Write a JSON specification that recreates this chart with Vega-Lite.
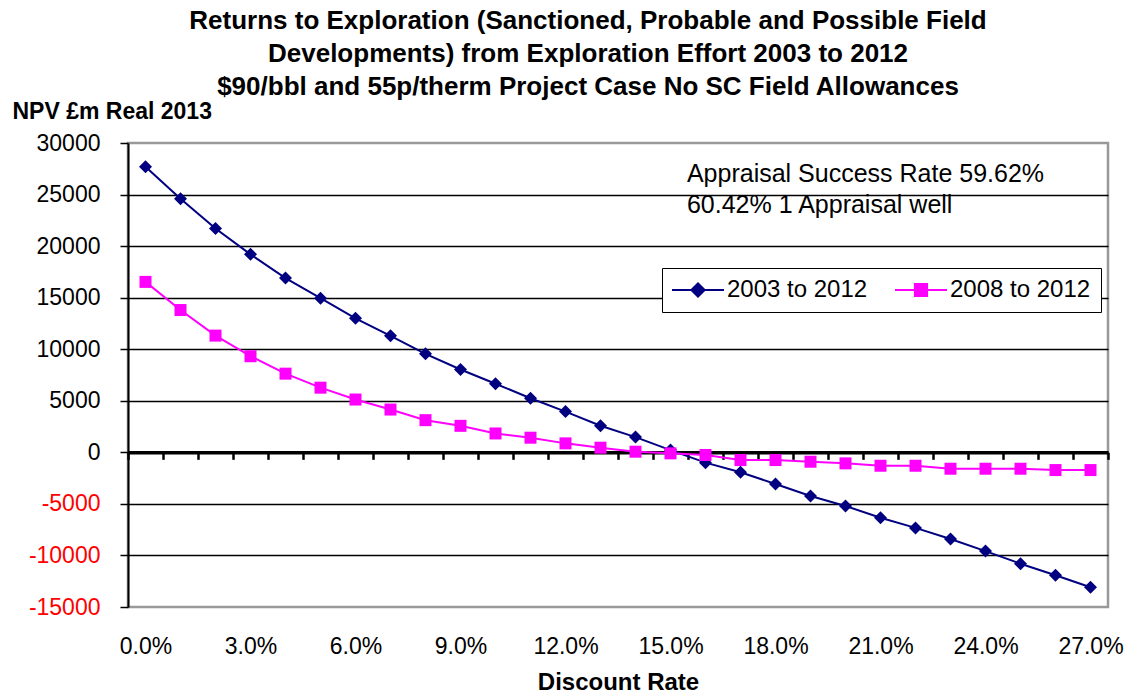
{
  "$schema": "https://vega.github.io/schema/vega-lite/v6.json",
  "width": 980,
  "height": 464,
  "autosize": {"type": "none"},
  "padding": {"left": 128, "top": 143, "right": 24, "bottom": 90},
  "background": "white",
  "title": {
    "text": ["Returns to Exploration (Sanctioned, Probable and Possible Field", "Developments)  from Exploration Effort 2003 to 2012", "$90/bbl and 55p/therm Project Case No SC Field Allowances"],
    "fontSize": 26,
    "fontWeight": "bold",
    "font": "Liberation Sans",
    "color": "black",
    "anchor": "middle",
    "frame": "group",
    "dx": -30,
    "offset": 0,
    "lineHeight": 33
  },
  "data": {
    "values": [
      {"series": "2003 to 2012", "rate": 0, "npv": 27700},
      {"series": "2003 to 2012", "rate": 1, "npv": 24600},
      {"series": "2003 to 2012", "rate": 2, "npv": 21700},
      {"series": "2003 to 2012", "rate": 3, "npv": 19200},
      {"series": "2003 to 2012", "rate": 4, "npv": 16900},
      {"series": "2003 to 2012", "rate": 5, "npv": 14950},
      {"series": "2003 to 2012", "rate": 6, "npv": 13000},
      {"series": "2003 to 2012", "rate": 7, "npv": 11300},
      {"series": "2003 to 2012", "rate": 8, "npv": 9550},
      {"series": "2003 to 2012", "rate": 9, "npv": 8030},
      {"series": "2003 to 2012", "rate": 10, "npv": 6650},
      {"series": "2003 to 2012", "rate": 11, "npv": 5250},
      {"series": "2003 to 2012", "rate": 12, "npv": 3950},
      {"series": "2003 to 2012", "rate": 13, "npv": 2580},
      {"series": "2003 to 2012", "rate": 14, "npv": 1480},
      {"series": "2003 to 2012", "rate": 15, "npv": 220},
      {"series": "2003 to 2012", "rate": 16, "npv": -1000},
      {"series": "2003 to 2012", "rate": 17, "npv": -1930},
      {"series": "2003 to 2012", "rate": 18, "npv": -3070},
      {"series": "2003 to 2012", "rate": 19, "npv": -4230},
      {"series": "2003 to 2012", "rate": 20, "npv": -5200},
      {"series": "2003 to 2012", "rate": 21, "npv": -6350},
      {"series": "2003 to 2012", "rate": 22, "npv": -7330},
      {"series": "2003 to 2012", "rate": 23, "npv": -8400},
      {"series": "2003 to 2012", "rate": 24, "npv": -9580},
      {"series": "2003 to 2012", "rate": 25, "npv": -10800},
      {"series": "2003 to 2012", "rate": 26, "npv": -11920},
      {"series": "2003 to 2012", "rate": 27, "npv": -13080},
      {"series": "2008 to 2012", "rate": 0, "npv": 16530},
      {"series": "2008 to 2012", "rate": 1, "npv": 13800},
      {"series": "2008 to 2012", "rate": 2, "npv": 11320},
      {"series": "2008 to 2012", "rate": 3, "npv": 9320},
      {"series": "2008 to 2012", "rate": 4, "npv": 7630},
      {"series": "2008 to 2012", "rate": 5, "npv": 6270},
      {"series": "2008 to 2012", "rate": 6, "npv": 5120},
      {"series": "2008 to 2012", "rate": 7, "npv": 4150},
      {"series": "2008 to 2012", "rate": 8, "npv": 3120},
      {"series": "2008 to 2012", "rate": 9, "npv": 2570},
      {"series": "2008 to 2012", "rate": 10, "npv": 1830},
      {"series": "2008 to 2012", "rate": 11, "npv": 1420},
      {"series": "2008 to 2012", "rate": 12, "npv": 870},
      {"series": "2008 to 2012", "rate": 13, "npv": 450},
      {"series": "2008 to 2012", "rate": 14, "npv": 60},
      {"series": "2008 to 2012", "rate": 15, "npv": -100},
      {"series": "2008 to 2012", "rate": 16, "npv": -260},
      {"series": "2008 to 2012", "rate": 17, "npv": -750},
      {"series": "2008 to 2012", "rate": 18, "npv": -750},
      {"series": "2008 to 2012", "rate": 19, "npv": -910},
      {"series": "2008 to 2012", "rate": 20, "npv": -1070},
      {"series": "2008 to 2012", "rate": 21, "npv": -1300},
      {"series": "2008 to 2012", "rate": 22, "npv": -1300},
      {"series": "2008 to 2012", "rate": 23, "npv": -1590},
      {"series": "2008 to 2012", "rate": 24, "npv": -1590},
      {"series": "2008 to 2012", "rate": 25, "npv": -1590},
      {"series": "2008 to 2012", "rate": 26, "npv": -1720},
      {"series": "2008 to 2012", "rate": 27, "npv": -1720}
    ]
  },
  "resolve": {"axis": {"x": "independent"}},
  "layer": [
    {
      "mark": {"type": "line", "strokeWidth": 2},
      "encoding": {
        "x": {
          "field": "rate", "type": "quantitative",
          "scale": {"domain": [-0.5, 27.5], "nice": false, "zero": false},
          "axis": {
            "orient": "bottom",
            "values": [0, 3, 6, 9, 12, 15, 18, 21, 24, 27],
            "labelExpr": "format(datum.value / 100, '.1%')",
            "ticks": false, "domain": false, "grid": false,
            "labelFontSize": 23, "labelPadding": 28, "labelFlush": false,
            "title": "Discount Rate", "titleFontSize": 24, "titleFontWeight": "bold", "titlePadding": 12
          }
        },
        "y": {
          "field": "npv", "type": "quantitative",
          "scale": {"domain": [-15000, 30000], "nice": false, "zero": false},
          "axis": {
            "values": [-15000, -10000, -5000, 0, 5000, 10000, 15000, 20000, 25000, 30000],
            "labelExpr": "'' + datum.value",
            "labelFontSize": 23,
            "labelColor": {"condition": {"test": "datum.value < 0", "value": "#FF0000"}, "value": "black"},
            "labelPadding": 20,
            "tickSize": 8, "tickColor": "black", "tickWidth": 1.5,
            "domainColor": "black", "domainWidth": 2,
            "grid": true, "gridWidth": 1.5,
            "gridColor": {"condition": {"test": "datum.value == 30000 || datum.value == -15000", "value": "transparent"}, "value": "black"},
            "title": "NPV £m Real 2013",
            "titleAngle": 0, "titleAlign": "left", "titleBaseline": "middle",
            "titleX": -116, "titleY": -32,
            "titleFontSize": 23, "titleFontWeight": "bold"
          }
        },
        "color": {
          "field": "series", "type": "nominal",
          "scale": {"domain": ["2003 to 2012", "2008 to 2012"], "range": ["#000080", "#FF00FF"]},
          "legend": {
            "title": null, "orient": "none", "legendX": 534, "legendY": 125, "direction": "horizontal",
            "symbolType": {"expr": "datum.value == '2003 to 2012' ? 'M-4,0L4,0M0,-1L1,0L0,1L-1,0ZM0,-0.72L0.72,0L0,0.72L-0.72,0ZM0,-0.44L0.44,0L0,0.44L-0.44,0ZM0,-0.16L0.16,0L0,0.16L-0.16,0Z' : 'M-4,0L4,0M-0.92,-0.92L0.92,-0.92L0.92,0.92L-0.92,0.92ZM-0.62,-0.62L0.62,-0.62L0.62,0.62L-0.62,0.62ZM-0.32,-0.32L0.32,-0.32L0.32,0.32L-0.32,0.32ZM-0.05,-0.05L0.05,-0.05L0.05,0.05L-0.05,0.05Z'"},
            "symbolSize": 169,
            "symbolStrokeWidth": 2.2,
            "symbolOffset": 14,
            "labelOffset": 17,
            "columnPadding": 22
          }
        }
      }
    },
    {
      "transform": [{"filter": "datum.series == '2003 to 2012'"}],
      "mark": {"type": "point", "shape": "diamond", "filled": true, "size": 169, "opacity": 1},
      "encoding": {
        "x": {
          "field": "rate", "type": "quantitative",
          "axis": {
            "orient": "bottom", "offset": -154.67,
            "values": [-0.5, 0.5, 1.5, 2.5, 3.5, 4.5, 5.5, 6.5, 7.5, 8.5, 9.5, 10.5, 11.5, 12.5, 13.5, 14.5, 15.5, 16.5, 17.5, 18.5, 19.5, 20.5, 21.5, 22.5, 23.5, 24.5, 25.5, 26.5, 27.5],
            "labels": false, "ticks": true, "tickSize": 7, "tickWidth": 2.5, "tickColor": "black",
            "domain": true, "domainColor": "black", "domainWidth": 3.5, "grid": false, "title": null
          }
        },
        "y": {"field": "npv", "type": "quantitative"},
        "color": {"field": "series", "type": "nominal", "legend": null}
      }
    },
    {
      "transform": [{"filter": "datum.series == '2008 to 2012'"}],
      "mark": {"type": "point", "shape": "square", "filled": true, "size": 144, "opacity": 1},
      "encoding": {
        "x": {"field": "rate", "type": "quantitative", "axis": null},
        "y": {"field": "npv", "type": "quantitative"},
        "color": {"field": "series", "type": "nominal", "legend": null}
      }
    },
    {
      "data": {"values": [{}]},
      "mark": {
        "type": "text",
        "text": ["Appraisal Success Rate 59.62%", "60.42% 1 Appraisal well"],
        "align": "left", "baseline": "alphabetic",
        "fontSize": 25, "lineHeight": 31, "color": "black", "font": "Liberation Sans"
      },
      "encoding": {
        "x": {"datum": 15.47, "type": "quantitative", "axis": null},
        "y": {"datum": 26215, "type": "quantitative"}
      }
    }
  ],
  "config": {
    "font": "Liberation Sans",
    "view": {"stroke": "#999999", "strokeWidth": 2.5},
    "axis": {"labelColor": "black", "titleColor": "black"},
    "legend": {
      "labelFontSize": 24,
      "labelColor": "black",
      "padding": 10,
      "strokeColor": "black",
      "fillColor": "white"
    }
  }
}
